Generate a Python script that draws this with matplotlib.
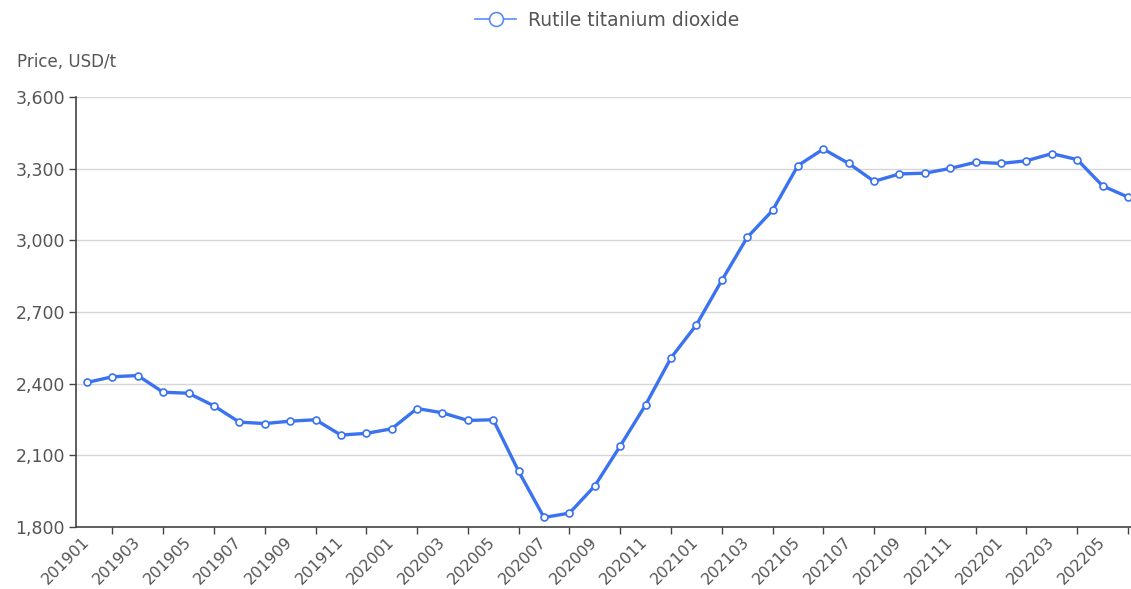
import matplotlib
matplotlib.use('Agg')
import matplotlib.pyplot as plt
from matplotlib.lines import Line2D
from matplotlib.ticker import FuncFormatter

# monthly price of rutile titanium dioxide, USD/t
months = ['201901', '201902', '201903', '201904', '201905', '201906',
          '201907', '201908', '201909', '201910', '201911', '201912',
          '202001', '202002', '202003', '202004', '202005', '202006',
          '202007', '202008', '202009', '202010', '202011', '202012',
          '202101', '202102', '202103', '202104', '202105', '202106',
          '202107', '202108', '202109', '202110', '202111', '202112',
          '202201', '202202', '202203', '202204', '202205', '202206']
prices = [2405, 2429, 2434, 2364, 2360, 2307, 2239, 2233, 2243, 2249, 2185, 2192,
          2211, 2296, 2278, 2246, 2249, 2033, 1840, 1858, 1972, 2139, 2311, 2508,
          2646, 2832, 3012, 3125, 3313, 3382, 3322, 3247, 3278, 3281, 3301, 3327,
          3322, 3333, 3363, 3338, 3228, 3181]
series_name = 'Rutile titanium dioxide'
yticks = [1800, 2100, 2400, 2700, 3000, 3300, 3600]

blue = '#3b72f0'
txt = '#555555'

plt.rcParams['font.family'] = ['DejaVu Sans']

fig = plt.figure(figsize=(11.31, 5.89), dpi=100)
ax = fig.add_axes([76/1131, 62/589, 1 - 76/1131, 430/589])

x = list(range(len(months)))
ax.plot(x, prices, color=blue, lw=2.4, marker='o', ms=5,
        markerfacecolor='white', markeredgecolor=blue, markeredgewidth=1.2,
        zorder=3)

ax.set_xlim(-0.433, len(months) - 1 + 0.118)
ax.set_ylim(1800, 3600)
ax.set_yticks(yticks)
ax.yaxis.set_major_formatter(FuncFormatter(lambda v, p: f'{int(v):,}'))
ax.grid(axis='y', color='#d6d6d6', lw=1)
ax.set_axisbelow(True)

# labels on every other month, tick marks between them
ax.set_xticks(x[::2])
ax.set_xticklabels(months[::2], rotation=45, ha='right', va='center',
                   rotation_mode='anchor')
ax.set_xticks(x[1::2], minor=True)
ax.tick_params(axis='x', which='major', length=0, pad=9, labelsize=11.3, labelcolor=txt)
ax.tick_params(axis='x', which='minor', length=5, width=1, color='#444444')
ax.tick_params(axis='y', length=5, width=1, color='#444444', labelsize=12.5,
               labelcolor=txt, pad=3)

for s in ['top', 'right']:
    ax.spines[s].set_visible(False)
ax.spines['left'].set_color('#444444')
ax.spines['bottom'].set_color('#444444')
ax.spines['left'].set_linewidth(1.2)
ax.spines['bottom'].set_linewidth(1.2)

fig.text(17/1131, 1 - 62/589, 'Price, USD/t', fontsize=12, color=txt,
         va='center', ha='left')

handle = Line2D([], [], color='#5b8cf5', lw=1.2, marker='o', ms=10,
                markerfacecolor='white', markeredgecolor='#5b8cf5', markeredgewidth=1.2)
fig.legend(handles=[handle], labels=[series_name], loc='center',
           bbox_to_anchor=(607/1131, 1 - 20/589), frameon=False,
           fontsize=13.5, labelcolor=txt, handlelength=2.2, handletextpad=0.6)

fig.savefig('out.png', dpi=100)
